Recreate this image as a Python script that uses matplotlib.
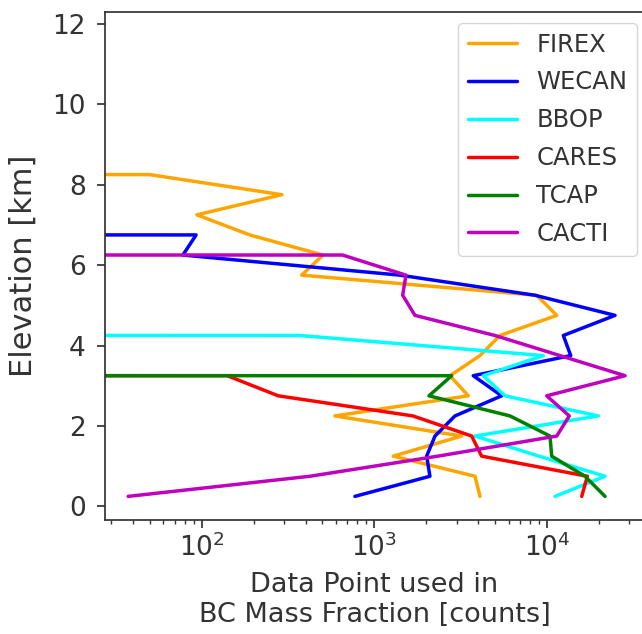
import numpy as np
import matplotlib
matplotlib.use("Agg")
import matplotlib.pyplot as plt
import seaborn as sns

# elevation bins [km]
elevation = [0.25, 0.75, 1.25, 1.75, 2.25, 2.75, 3.25, 3.75, 4.25,
             4.75, 5.25, 5.75, 6.25, 6.75, 7.25, 7.75, 8.25, 8.75]

# counts per bin (0 = no data)
firex = [4097, 3832, 1289, 3209, 592, 3504, 2745, 4097, 5350,
         11400, 8730, 380, 505, 190, 94, 292, 50, 0]
wecan = [773, 2102, 2012, 2248, 2935, 5472, 3746, 13740, 12450,
         24810, 8535, 1409, 78, 93, 0, 0, 0, 0]
bbop = [11140, 21710, 9000, 3832, 19860, 5718, 4280, 9530, 371,
        0, 0, 0, 0, 0, 0, 0, 0, 0]
cares = [15910, 17150, 4190, 3667, 1676, 278, 141, 0, 0,
         0, 0, 0, 0, 0, 0, 0, 0, 0]
tcap = [21710, 16620, 10660, 10420, 6113, 2075, 2809, 0, 0,
        0, 0, 0, 0, 0, 0, 0, 0, 0]
cacti = [37.6, 424, 2339, 11400, 13480, 9973, 28350, 11910, 5004,
         1722, 1461, 1527, 656, 0, 0, 0, 0, 0]

campaigns = ["FIREX", "WECAN", "BBOP", "CARES", "TCAP", "CACTI"]
colors = ["orange", "b", "cyan", "r", "g", "m"]

sns.set_style("ticks")
plt.rcParams["text.color"] = ".2"
plt.rcParams["axes.labelcolor"] = ".2"
plt.rcParams["xtick.color"] = ".2"
plt.rcParams["ytick.color"] = ".2"
plt.rcParams["axes.edgecolor"] = ".2"

fig, ax = plt.subplots(figsize=(6.42, 6.34), dpi=100)
fig.subplots_adjust(left=105 / 642, right=644 / 642, top=1 - 11.7 / 634, bottom=1 - 519.7 / 634)

for name, data, c in zip(campaigns, [firex, wecan, bbop, cares, tcap, cacti], colors):
    ax.plot(np.array(data), elevation, color=c, lw=2.5, label=name)

ax.set_xscale("log", nonpositive="clip")
ax.set_xlim(27.6, 36500)
ax.set_ylim(-0.33, 12.3)
ax.set_yticks([0, 2, 4, 6, 8, 10, 12])
ax.tick_params(axis="both", which="major", labelsize=19, width=1.25, length=6)
ax.tick_params(axis="y", which="major", pad=8)
ax.tick_params(axis="x", which="major", pad=4)
ax.tick_params(axis="both", which="minor", width=1.0, length=3)
for s in ax.spines.values():
    s.set_linewidth(1.25)

ax.set_xlabel("Data Point used in\nBC Mass Fraction [counts]", fontsize=19.5, labelpad=7)
ax.set_ylabel("Elevation [km]", fontsize=22)
ax.yaxis.set_label_coords(-0.124, 0.5)
ax.legend(loc="upper right", bbox_to_anchor=(0.987, 0.978), borderaxespad=0,
          fontsize=17.5, labelspacing=0.57)

plt.savefig("out.png")
